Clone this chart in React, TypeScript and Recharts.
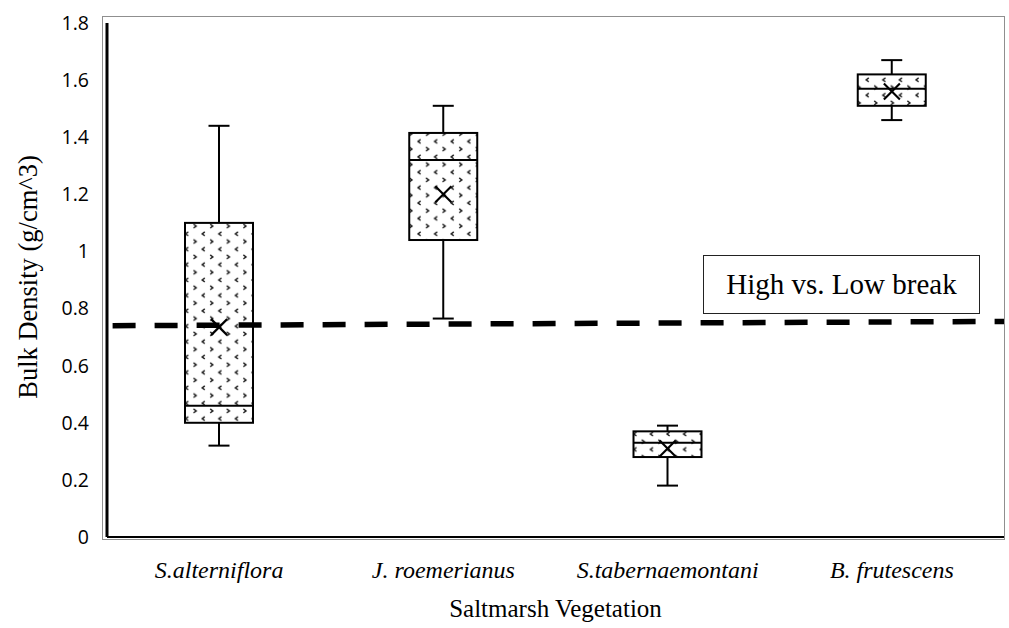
import React from 'react';
import {
  ComposedChart,
  Bar,
  Line,
  XAxis,
  YAxis,
  ReferenceLine,
} from 'recharts';

// Bulk density by saltmarsh vegetation type (g/cm^3)
const categories = ['S.alterniflora', 'J. roemerianus', 'S.tabernaemontani', 'B. frutescens'];
const whiskerLow = [0.32, 0.765, 0.18, 1.46];
const quartile1 = [0.4, 1.04, 0.28, 1.51];
const medians = [0.46, 1.32, 0.33, 1.57];
const quartile3 = [1.1, 1.415, 0.37, 1.62];
const whiskerHigh = [1.44, 1.51, 0.39, 1.67];
const means = [0.735, 1.2, 0.31, 1.56];

const yTicks = [0, 0.2, 0.4, 0.6, 0.8, 1, 1.2, 1.4, 1.6, 1.8];

// High / low bulk density threshold, drawn across the whole plot
const breakLine = [
  { x: 0.025, y: 0.74 },
  { x: 4, y: 0.755 },
];
const breakLabel = 'High vs. Low break';

const data = categories.map((name, i) => ({
  name,
  slot: i + 0.5,
  low: whiskerLow[i],
  q1: quartile1[i],
  median: medians[i],
  q3: quartile3[i],
  high: whiskerHigh[i],
  mean: means[i],
}));

const SERIF = '"Liberation Serif", "Times New Roman", serif';
const SANS = '"Open Sans", "Noto Sans", sans-serif';

const Whisker = (props: any) => {
  const { x, y, width, height } = props;
  const cx = x + width / 2;
  const cap = 10.5;
  return (
    <g stroke="#000" strokeWidth={2} fill="none">
      <line x1={cx} y1={y} x2={cx} y2={y + height} />
      <line x1={cx - cap} y1={y} x2={cx + cap} y2={y} />
      <line x1={cx - cap} y1={y + height} x2={cx + cap} y2={y + height} />
    </g>
  );
};

const Box = (props: any) => {
  const { x, y, width, height, payload } = props;
  const span = payload.q3 - payload.q1;
  const my = y + (height * (payload.q3 - payload.median)) / span;
  return (
    <g>
      <rect x={x} y={y} width={width} height={height} fill="url(#chevronFill)" stroke="#000" strokeWidth={2} />
      <line x1={x} y1={my} x2={x + width} y2={my} stroke="#000" strokeWidth={2} />
    </g>
  );
};

const MeanMark = (props: any) => {
  const { cx, cy } = props;
  if (cx == null || cy == null) return null;
  const r = 8;
  return (
    <g stroke="#000" strokeWidth={2.2}>
      <line x1={cx - r} y1={cy - r} x2={cx + r} y2={cy + r} />
      <line x1={cx - r} y1={cy + r} x2={cx + r} y2={cy - r} />
    </g>
  );
};

const YTitle = (props: any) => {
  const { viewBox } = props;
  const cx = viewBox.x + 28;
  const cy = viewBox.y + viewBox.height / 2 - 3;
  return (
    <text
      x={cx}
      y={cy}
      transform={`rotate(-90 ${cx} ${cy})`}
      textAnchor="middle"
      dominantBaseline="central"
      fontFamily={SERIF}
      fontSize={26.5}
      fill="#000"
    >
      Bulk Density (g/cm^3)
    </text>
  );
};

const XTitle = (props: any) => {
  const { viewBox } = props;
  const cx = viewBox.x + viewBox.width / 2;
  const by = viewBox.y + viewBox.height;
  return (
    <text x={cx} y={by} textAnchor="middle" fontFamily={SERIF} fontSize={25} fill="#000">
      Saltmarsh Vegetation
    </text>
  );
};

export default function App() {
  return (
    <div style={{ position: 'absolute', left: 0, top: 0, width: 1009, height: 628, background: '#fff' }}>
      {/* outer plot frame */}
      <div
        style={{
          position: 'absolute',
          left: 102,
          top: 16,
          width: 903,
          height: 524,
          boxSizing: 'border-box',
          border: '1.5px solid #8f8f8f',
          pointerEvents: 'none',
        }}
      />
      <ComposedChart
        width={1009}
        height={628}
        data={data}
        margin={{ top: 23, right: 5, left: 0, bottom: 11 }}
        barGap={-68}
        style={{ position: 'absolute', left: 0, top: 0 }}
      >
        <defs>
          <pattern id="chevronFill" patternUnits="userSpaceOnUse" width={16.6} height={15.4}>
            <rect width={16.6} height={15.4} fill="#fff" />
            <path d="M5.6 0.8 L3 2.8 L5.6 4.8" stroke="#1a1a1a" strokeWidth={1.4} fill="none" />
            <path d="M11 8.5 L13.6 10.5 L11 12.5" stroke="#1a1a1a" strokeWidth={1.4} fill="none" />
          </pattern>
        </defs>
        <XAxis
          dataKey="name"
          height={80}
          axisLine={{ stroke: '#000', strokeWidth: 2 }}
          tickLine={false}
          tickMargin={18}
          interval={0}
          tick={{ fontFamily: SERIF, fontStyle: 'italic', fontSize: 24, fill: '#000' }}
          label={<XTitle />}
        />
        <XAxis
          xAxisId="ref"
          dataKey="slot"
          type="number"
          domain={[0, 4]}
          allowDataOverflow
          hide
        />
        <YAxis
          width={107}
          domain={[0, 1.8]}
          ticks={yTicks}
          interval={0}
          axisLine={{ stroke: '#000', strokeWidth: 3 }}
          tickLine={false}
          tickMargin={12}
          tick={{ fontFamily: SANS, fontSize: 19.5, fill: '#000' }}
          label={<YTitle />}
        />
        <Bar
          dataKey={(d: any) => [d.low, d.high]}
          barSize={68}
          shape={<Whisker />}
          isAnimationActive={false}
          legendType="none"
        />
        <Bar
          dataKey={(d: any) => [d.q1, d.q3]}
          barSize={68}
          shape={<Box />}
          isAnimationActive={false}
          legendType="none"
        />
        <ReferenceLine
          xAxisId="ref"
          segment={breakLine}
          ifOverflow="visible"
          stroke="#000"
          strokeWidth={5.5}
          strokeDasharray="23 19"
        />
        <Line
          dataKey="mean"
          stroke="none"
          dot={<MeanMark />}
          activeDot={false}
          isAnimationActive={false}
          legendType="none"
        />
      </ComposedChart>
      {/* threshold annotation */}
      <div
        style={{
          position: 'absolute',
          left: 703,
          top: 255,
          width: 277,
          height: 59,
          boxSizing: 'border-box',
          border: '1.5px solid #222',
          background: '#fff',
          display: 'flex',
          alignItems: 'center',
          justifyContent: 'center',
          fontFamily: SERIF,
          fontSize: 29,
          color: '#000',
          pointerEvents: 'none',
        }}
      >
        {breakLabel}
      </div>
    </div>
  );
}
